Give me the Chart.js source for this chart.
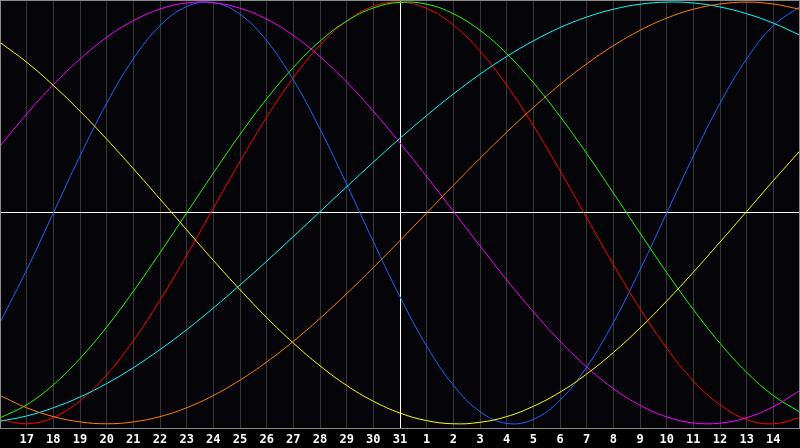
<!DOCTYPE html>
<html>
<head>
<meta charset="utf-8">
<script src="https://cdn.jsdelivr.net/npm/chart.js@4/dist/chart.umd.min.js"></script>
<style>
  html, body { margin: 0; padding: 0; background: #000; }
  canvas { display: block; }
</style>
</head>
<body>
<canvas id="bio" width="800" height="448"></canvas>
<script>
// day labels along the bottom (first and last are the chart edges, not printed)
const dias = ['16','17','18','19','20','21','22','23','24','25','26','27','28','29','30','31',
              '1','2','3','4','5','6','7','8','9','10','11','12','13','14','15'];

const azul = [-0.520,-0.270,0.000,0.270,0.520,0.731,0.888,0.979,0.998,0.942,0.817,0.631,0.398,0.136,-0.136,-0.398,
              -0.631,-0.817,-0.942,-0.998,-0.979,-0.888,-0.731,-0.520,-0.270,0.000,0.270,0.520,0.731,0.888,0.979];
const rojo = [-0.980,-1.000,-0.970,-0.891,-0.768,-0.606,-0.414,-0.201,0.022,0.244,0.454,0.641,0.796,0.910,0.980,1.000,
              0.970,0.891,0.768,0.606,0.414,0.201,-0.022,-0.244,-0.454,-0.641,-0.796,-0.910,-0.980,-1.000,-0.970];
const verde = [-0.972,-0.910,-0.815,-0.690,-0.541,-0.372,-0.189,0.000,0.189,0.372,0.541,0.690,0.815,0.910,0.972,0.999,
               0.990,0.945,0.866,0.756,0.618,0.458,0.282,0.095,-0.095,-0.282,-0.458,-0.618,-0.756,-0.866,-0.945];
const magenta = [0.317,0.469,0.608,0.730,0.833,0.912,0.967,0.996,0.997,0.971,0.919,0.842,0.741,0.621,0.483,0.332,
                 0.173,0.008,-0.156,-0.317,-0.469,-0.608,-0.730,-0.833,-0.912,-0.967,-0.996,-0.997,-0.971,-0.919,-0.842];
const amarillo = [0.809,0.715,0.605,0.483,0.350,0.210,0.066,-0.080,-0.225,-0.364,-0.496,-0.617,-0.725,-0.818,-0.893,-0.949,
                  -0.985,-1.000,-0.993,-0.966,-0.917,-0.850,-0.764,-0.662,-0.546,-0.418,-0.281,-0.138,0.007,0.153,0.295];
const naranja = [-0.866,-0.924,-0.966,-0.991,-1.000,-0.991,-0.966,-0.924,-0.866,-0.793,-0.707,-0.609,-0.500,-0.383,-0.259,-0.131,
                 0.000,0.131,0.259,0.383,0.500,0.609,0.707,0.793,0.866,0.924,0.966,0.991,1.000,0.991,0.966];
const cian = [-0.988,-0.963,-0.924,-0.873,-0.809,-0.734,-0.648,-0.554,-0.451,-0.342,-0.229,-0.112,0.006,0.124,0.241,0.354,
              0.462,0.564,0.658,0.742,0.816,0.879,0.929,0.966,0.990,1.000,0.996,0.977,0.945,0.900,0.843];

function serie(valores, color) {
    return {
        data: valores.map((v, i) => ({ x: i, y: v })),
        borderColor: color,
        borderWidth: 1,
        pointRadius: 0,
        fill: false,
        tension: 0.4
    };
}

// gray frame around the plot
const marco = {
    id: 'marco',
    afterDraw(chart) {
        const a = chart.chartArea;
        const c = chart.ctx;
        c.save();
        c.strokeStyle = '#8a8a8a';
        c.lineWidth = 1;
        c.strokeRect(a.left + 0.5, a.top + 0.5, a.right - a.left - 1, a.bottom - a.top);
        c.restore();
    }
};

const fondo = {
    id: 'fondo',
    beforeDraw(chart) {
        const c = chart.ctx;
        c.save();
        c.fillStyle = '#000';
        c.fillRect(0, 0, chart.width, chart.height);
        c.fillStyle = '#050409';
        const a = chart.chartArea;
        c.fillRect(a.left, a.top, a.right - a.left, a.bottom - a.top);
        c.restore();
    }
};

new Chart(document.getElementById('bio').getContext('2d'), {
    type: 'line',
    data: {
        datasets: [
            serie(naranja, '#ff8000'),
            serie(cian, '#00ffff'),
            serie(amarillo, '#ffff00'),
            serie(magenta, '#ff00ff'),
            serie(verde, '#22ff00'),
            serie(rojo, '#ff0000'),
            serie(azul, '#1a66ff')
        ]
    },
    options: {
        responsive: false,
        animation: false,
        events: [],
        layout: { padding: 0 },
        plugins: { legend: { display: false }, tooltip: { enabled: false } },
        scales: {
            x: {
                type: 'linear',
                min: 0,
                max: dias.length - 1,
                afterFit: s => { s.height = 20; s.paddingLeft = 0; s.paddingRight = 0; },
                border: { display: false },
                grid: {
                    drawTicks: false,
                    color: ctx => ctx.tick.value === 15 ? '#ffffff' : '#383838',
                    lineWidth: 1
                },
                ticks: {
                    stepSize: 1,
                    autoSkip: false,
                    maxRotation: 0,
                    padding: 5,
                    color: '#ffffff',
                    font: { family: 'DejaVu Sans Mono', size: 12, weight: 'bold' },
                    callback: v => (v === 0 || v === dias.length - 1) ? '' : dias[v]
                }
            },
            y: {
                min: -1.02,
                max: 1.01,
                afterFit: s => { s.width = 0; s.paddingTop = 0; s.paddingBottom = 0; },
                afterBuildTicks: s => { s.ticks = [{ value: 0 }]; },
                border: { display: false },
                grid: { drawTicks: false, color: '#ffffff', lineWidth: 1 },
                ticks: { display: false }
            }
        }
    },
    plugins: [fondo, marco]
});
</script>
</body>
</html>
